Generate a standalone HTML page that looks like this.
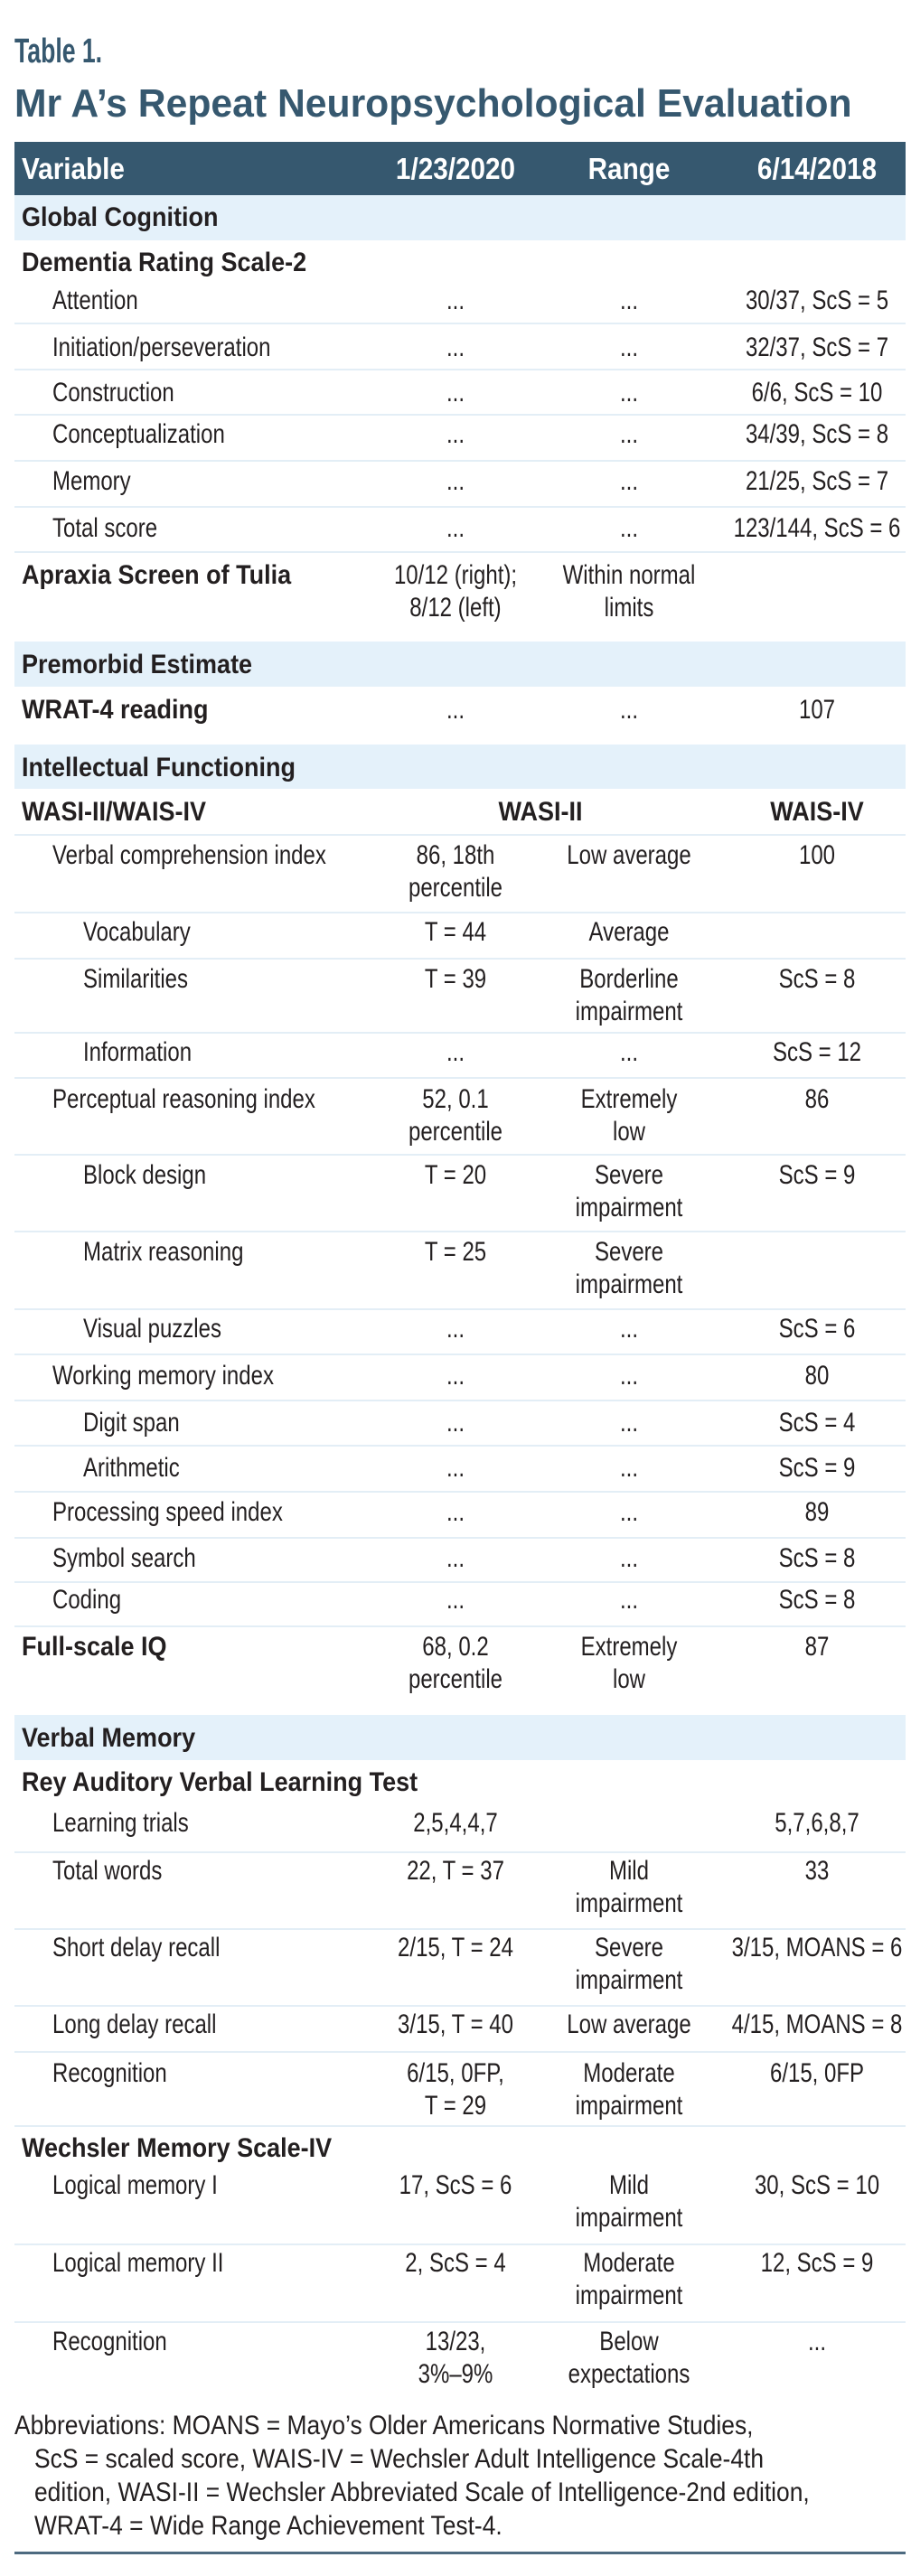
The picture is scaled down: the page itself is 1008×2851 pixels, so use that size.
<!DOCTYPE html>
<html><head><meta charset="utf-8">
<style>
html,body{margin:0;padding:0;background:#fff;}
body{width:1008px;height:2851px;position:relative;overflow:hidden;font-family:"Liberation Sans",sans-serif;color:#231f20;}
.t{position:absolute;white-space:nowrap;font-size:30px;line-height:36px;}
.l{transform-origin:0 0;transform:scaleX(0.8);}
.c{text-align:center;transform:translateX(-50%) scaleX(0.8);}
.b{font-weight:bold;}
.l.b{transform:scaleX(0.9);}
.c.b{transform:translateX(-50%) scaleX(0.9);}
.h{font-size:33px;}
.band{position:absolute;left:16px;width:986px;background:#e4f1fa;}
.ln{position:absolute;left:16px;width:986px;height:2px;background:#e3eef6;}
</style></head><body>
<div class="t l b" style="left:16px;top:36px;font-size:38px;line-height:42px;color:#36586f;transform:scaleX(0.7)">Table 1.</div>
<div class="t l b" style="left:16px;top:90px;font-size:44px;line-height:50px;color:#36586f;transform:scaleX(0.97)">Mr A’s Repeat Neuropsychological Evaluation</div>

<div style="position:absolute;left:16px;top:157px;width:986px;height:59px;background:#36586f;"></div>
<div class="t l b h" style="left:24px;top:169px;color:#fff;">Variable</div>
<div class="t c b h" style="left:504px;top:169px;color:#fff;">1/23/2020</div>
<div class="t c b h" style="left:696px;top:169px;color:#fff;">Range</div>
<div class="t c b h" style="left:904px;top:169px;color:#fff;">6/14/2018</div>

<div class="band" style="top:216px;height:50px"></div>
<div class="t l b" style="left:24px;top:223px">Global Cognition</div>
<div class="t l b" style="left:24px;top:273px">Dementia Rating Scale-2</div>

<div class="t l" style="left:58px;top:315px">Attention</div><div class="t c" style="left:504px;top:315px">...</div><div class="t c" style="left:696px;top:315px">...</div><div class="t c" style="left:904px;top:315px">30/37, ScS = 5</div>
<div class="ln" style="top:357px"></div>
<div class="t l" style="left:58px;top:367px">Initiation/perseveration</div><div class="t c" style="left:504px;top:367px">...</div><div class="t c" style="left:696px;top:367px">...</div><div class="t c" style="left:904px;top:367px">32/37, ScS = 7</div>
<div class="ln" style="top:408px"></div>
<div class="t l" style="left:58px;top:417px">Construction</div><div class="t c" style="left:504px;top:417px">...</div><div class="t c" style="left:696px;top:417px">...</div><div class="t c" style="left:904px;top:417px">6/6, ScS = 10</div>
<div class="ln" style="top:458px"></div>
<div class="t l" style="left:58px;top:463px">Conceptualization</div><div class="t c" style="left:504px;top:463px">...</div><div class="t c" style="left:696px;top:463px">...</div><div class="t c" style="left:904px;top:463px">34/39, ScS = 8</div>
<div class="ln" style="top:509px"></div>
<div class="t l" style="left:58px;top:515px">Memory</div><div class="t c" style="left:504px;top:515px">...</div><div class="t c" style="left:696px;top:515px">...</div><div class="t c" style="left:904px;top:515px">21/25, ScS = 7</div>
<div class="ln" style="top:560px"></div>
<div class="t l" style="left:58px;top:567px">Total score</div><div class="t c" style="left:504px;top:567px">...</div><div class="t c" style="left:696px;top:567px">...</div><div class="t c" style="left:904px;top:567px">123/144, ScS = 6</div>
<div class="ln" style="top:610px"></div>
<div class="t l b" style="left:24px;top:619px">Apraxia Screen of Tulia</div><div class="t c" style="left:504px;top:619px">10/12 (right);<br>8/12 (left)</div><div class="t c" style="left:696px;top:619px">Within normal<br>limits</div>

<div class="band" style="top:710px;height:50px"></div>
<div class="t l b" style="left:24px;top:718px">Premorbid Estimate</div>
<div class="t l b" style="left:24px;top:768px">WRAT-4 reading</div><div class="t c" style="left:504px;top:768px">...</div><div class="t c" style="left:696px;top:768px">...</div><div class="t c" style="left:904px;top:768px">107</div>

<div class="band" style="top:824px;height:49px"></div>
<div class="t l b" style="left:24px;top:832px">Intellectual Functioning</div>
<div class="t l b" style="left:24px;top:881px">WASI-II/WAIS-IV</div><div class="t c b" style="left:598px;top:881px">WASI-II</div><div class="t c b" style="left:904px;top:881px">WAIS-IV</div>
<div class="ln" style="top:923px"></div>
<div class="t l" style="left:58px;top:929px">Verbal comprehension index</div><div class="t c" style="left:504px;top:929px">86, 18th<br>percentile</div><div class="t c" style="left:696px;top:929px">Low average</div><div class="t c" style="left:904px;top:929px">100</div>
<div class="ln" style="top:1009px"></div>
<div class="t l" style="left:92px;top:1014px">Vocabulary</div><div class="t c" style="left:504px;top:1014px">T = 44</div><div class="t c" style="left:696px;top:1014px">Average</div>
<div class="ln" style="top:1060px"></div>
<div class="t l" style="left:92px;top:1066px">Similarities</div><div class="t c" style="left:504px;top:1066px">T = 39</div><div class="t c" style="left:696px;top:1066px">Borderline<br>impairment</div><div class="t c" style="left:904px;top:1066px">ScS = 8</div>
<div class="ln" style="top:1142px"></div>
<div class="t l" style="left:92px;top:1147px">Information</div><div class="t c" style="left:504px;top:1147px">...</div><div class="t c" style="left:696px;top:1147px">...</div><div class="t c" style="left:904px;top:1147px">ScS = 12</div>
<div class="ln" style="top:1192px"></div>
<div class="t l" style="left:58px;top:1199px">Perceptual reasoning index</div><div class="t c" style="left:504px;top:1199px">52, 0.1<br>percentile</div><div class="t c" style="left:696px;top:1199px">Extremely<br>low</div><div class="t c" style="left:904px;top:1199px">86</div>
<div class="ln" style="top:1277px"></div>
<div class="t l" style="left:92px;top:1283px">Block design</div><div class="t c" style="left:504px;top:1283px">T = 20</div><div class="t c" style="left:696px;top:1283px">Severe<br>impairment</div><div class="t c" style="left:904px;top:1283px">ScS = 9</div>
<div class="ln" style="top:1362px"></div>
<div class="t l" style="left:92px;top:1368px">Matrix reasoning</div><div class="t c" style="left:504px;top:1368px">T = 25</div><div class="t c" style="left:696px;top:1368px">Severe<br>impairment</div>
<div class="ln" style="top:1448px"></div>
<div class="t l" style="left:92px;top:1453px">Visual puzzles</div><div class="t c" style="left:504px;top:1453px">...</div><div class="t c" style="left:696px;top:1453px">...</div><div class="t c" style="left:904px;top:1453px">ScS = 6</div>
<div class="ln" style="top:1498px"></div>
<div class="t l" style="left:58px;top:1505px">Working memory index</div><div class="t c" style="left:504px;top:1505px">...</div><div class="t c" style="left:696px;top:1505px">...</div><div class="t c" style="left:904px;top:1505px">80</div>
<div class="ln" style="top:1549px"></div>
<div class="t l" style="left:92px;top:1557px">Digit span</div><div class="t c" style="left:504px;top:1557px">...</div><div class="t c" style="left:696px;top:1557px">...</div><div class="t c" style="left:904px;top:1557px">ScS = 4</div>
<div class="ln" style="top:1599px"></div>
<div class="t l" style="left:92px;top:1607px">Arithmetic</div><div class="t c" style="left:504px;top:1607px">...</div><div class="t c" style="left:696px;top:1607px">...</div><div class="t c" style="left:904px;top:1607px">ScS = 9</div>
<div class="ln" style="top:1650px"></div>
<div class="t l" style="left:58px;top:1656px">Processing speed index</div><div class="t c" style="left:504px;top:1656px">...</div><div class="t c" style="left:696px;top:1656px">...</div><div class="t c" style="left:904px;top:1656px">89</div>
<div class="ln" style="top:1701px"></div>
<div class="t l" style="left:58px;top:1707px">Symbol search</div><div class="t c" style="left:504px;top:1707px">...</div><div class="t c" style="left:696px;top:1707px">...</div><div class="t c" style="left:904px;top:1707px">ScS = 8</div>
<div class="ln" style="top:1750px"></div>
<div class="t l" style="left:58px;top:1753px">Coding</div><div class="t c" style="left:504px;top:1753px">...</div><div class="t c" style="left:696px;top:1753px">...</div><div class="t c" style="left:904px;top:1753px">ScS = 8</div>
<div class="ln" style="top:1799px"></div>
<div class="t l b" style="left:24px;top:1805px">Full-scale IQ</div><div class="t c" style="left:504px;top:1805px">68, 0.2<br>percentile</div><div class="t c" style="left:696px;top:1805px">Extremely<br>low</div><div class="t c" style="left:904px;top:1805px">87</div>

<div class="band" style="top:1898px;height:50px"></div>
<div class="t l b" style="left:24px;top:1906px">Verbal Memory</div>
<div class="t l b" style="left:24px;top:1955px">Rey Auditory Verbal Learning Test</div>
<div class="t l" style="left:58px;top:2000px">Learning trials</div><div class="t c" style="left:504px;top:2000px">2,5,4,4,7</div><div class="t c" style="left:904px;top:2000px">5,7,6,8,7</div>
<div class="ln" style="top:2049px"></div>
<div class="t l" style="left:58px;top:2053px">Total words</div><div class="t c" style="left:504px;top:2053px">22, T = 37</div><div class="t c" style="left:696px;top:2053px">Mild<br>impairment</div><div class="t c" style="left:904px;top:2053px">33</div>
<div class="ln" style="top:2134px"></div>
<div class="t l" style="left:58px;top:2138px">Short delay recall</div><div class="t c" style="left:504px;top:2138px">2/15, T = 24</div><div class="t c" style="left:696px;top:2138px">Severe<br>impairment</div><div class="t c" style="left:904px;top:2138px">3/15, MOANS = 6</div>
<div class="ln" style="top:2219px"></div>
<div class="t l" style="left:58px;top:2223px">Long delay recall</div><div class="t c" style="left:504px;top:2223px">3/15, T = 40</div><div class="t c" style="left:696px;top:2223px">Low average</div><div class="t c" style="left:904px;top:2223px">4/15, MOANS = 8</div>
<div class="ln" style="top:2270px"></div>
<div class="t l" style="left:58px;top:2277px">Recognition</div><div class="t c" style="left:504px;top:2277px">6/15, 0FP,<br>T = 29</div><div class="t c" style="left:696px;top:2277px">Moderate<br>impairment</div><div class="t c" style="left:904px;top:2277px">6/15, 0FP</div>
<div class="ln" style="top:2352px"></div>
<div class="t l b" style="left:24px;top:2360px">Wechsler Memory Scale-IV</div>
<div class="t l" style="left:58px;top:2401px">Logical memory I</div><div class="t c" style="left:504px;top:2401px">17, ScS = 6</div><div class="t c" style="left:696px;top:2401px">Mild<br>impairment</div><div class="t c" style="left:904px;top:2401px">30, ScS = 10</div>
<div class="ln" style="top:2483px"></div>
<div class="t l" style="left:58px;top:2487px">Logical memory II</div><div class="t c" style="left:504px;top:2487px">2, ScS = 4</div><div class="t c" style="left:696px;top:2487px">Moderate<br>impairment</div><div class="t c" style="left:904px;top:2487px">12, ScS = 9</div>
<div class="ln" style="top:2569px"></div>
<div class="t l" style="left:58px;top:2574px">Recognition</div><div class="t c" style="left:504px;top:2574px">13/23,<br>3%–9%</div><div class="t c" style="left:696px;top:2574px">Below<br>expectations</div><div class="t c" style="left:904px;top:2574px">...</div>

<div class="t l" style="left:16px;top:2666px;line-height:37px;transform:scaleX(0.88)">Abbreviations: MOANS = Mayo’s Older Americans Normative Studies,<br>&nbsp;&nbsp;&nbsp;ScS = scaled score, WAIS-IV = Wechsler Adult Intelligence Scale-4th<br>&nbsp;&nbsp;&nbsp;edition, WASI-II = Wechsler Abbreviated Scale of Intelligence-2nd edition,<br>&nbsp;&nbsp;&nbsp;WRAT-4 = Wide Range Achievement Test-4.</div>
<div style="position:absolute;left:16px;top:2824px;width:986px;height:3px;background:#4d6a80;"></div>
</body></html>
